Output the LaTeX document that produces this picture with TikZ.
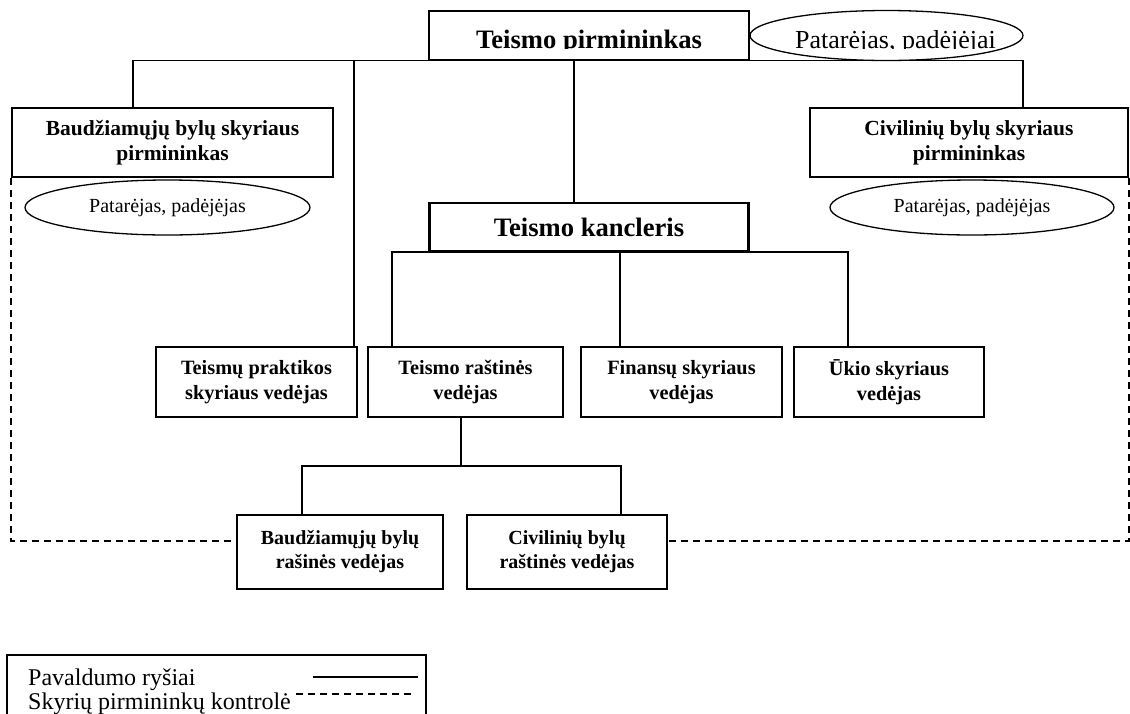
\documentclass[tikz,border=0pt]{standalone}
\usepackage{fontspec}
\setmainfont{Liberation Serif}
\usepackage{tikz}
\usetikzlibrary{shapes.geometric, arrows}
\tikzstyle{chief} =
[rectangle, minimum width = 320pt, minimum height = 49pt, inner sep = 0pt,
text height = 25pt, text depth = 0pt, text centered,
font = \bfseries\fontsize{26.6}{31}\selectfont]
\tikzstyle{topaides} =
[ellipse, minimum width = 273pt, minimum height = 50pt, inner sep = 0pt,
text height = 25pt, text depth = 0pt, text centered,
font = \fontsize{26}{30}\selectfont]
\tikzstyle{head} =
[rectangle, minimum width = 321pt, minimum height = 69pt, inner sep = 0pt,
align = center, draw = black, line width = 2.2pt,
font = \bfseries\fontsize{21.5}{25}\selectfont]
\tikzstyle{aides} =
[ellipse, minimum width = 285pt, minimum height = 55pt, inner sep = 0pt,
text centered, draw = black, line width = 1.3pt,
font = \fontsize{20}{24}\selectfont]
\tikzstyle{kanc} =
[rectangle, minimum width = 319pt, minimum height = 48pt, inner sep = 0pt,
text centered, draw = black, line width = 2.2pt,
font = \bfseries\fontsize{26.6}{31}\selectfont]
\tikzstyle{unit} =
[rectangle, minimum height = 70pt, inner sep = 0pt, align = center,
draw = black, line width = 2.2pt,
font = \bfseries\fontsize{20.3}{25}\selectfont]
\tikzstyle{office} =
[rectangle, minimum height = 74pt, inner sep = 0pt, align = center,
draw = black, line width = 2.2pt,
font = \bfseries\fontsize{20}{24}\selectfont]
\tikzstyle{legend} =
[inner sep = 0pt, anchor = base west, font = \fontsize{24}{28}\selectfont]
\tikzstyle{boxline} = [draw, line width = 2.2pt]
\tikzstyle{aideline} = [draw, line width = 1.3pt]
\tikzstyle{line} = [draw, line width = 1.3pt]
\tikzstyle{control} = [draw, line width = 1.3pt, dash pattern = on 7pt off 5pt]

\begin{document}
\begin{tikzpicture}[x = 1pt, y = -1pt, node distance = 200pt, auto]
  \useasboundingbox (0,0) rectangle (1130,713);
  \clip (0,0) rectangle (1130,713);
  % 1st level nodes
  \begin{scope}
    \clip (0,0) rectangle (1130,48.5); % lower part of the text is cut off
    \node [chief] (chief) at (589,35.5) {Teismo pirmininkas};
    \node [topaides, right of=chief, node distance=306.5pt] (chiefaides)
     {Patarėjas, padėjėjai};
  \end{scope}
  \draw [boxline] (chief.south west) rectangle (chief.north east);
  \draw [aideline] ([xshift=-9pt]chiefaides.center)
   ellipse [x radius=136.5, y radius=25];
  \node [head] (crimhead) at (172.5,142.5)
   {Baudžiamųjų bylų skyriaus\\ pirmininkas};
  \node [head, minimum width=318pt] (civhead) at (969,142.5)
   {Civilinių bylų skyriaus\\ pirmininkas};
  \node [aides] (crimaides) at (167.5,207.5) {Patarėjas, padėjėjas};
  \node [aides, minimum width=284pt] (civaides) at (972,207.5)
   {Patarėjas, padėjėjas};
  \node [kanc, below of=chief, node distance=191.5pt] (chancellor)
   {Teismo kancleris};
  % 1st level edges
  \path [line] (chief.south) -| ([xshift=-39.5pt]crimhead.north);
  \path [line] (chief.south) -| ([xshift=54pt]civhead.north);
  \path [line] (chief.south) -| ([xshift=-15pt]chancellor.north);
  %
  % 2nd level nodes
  \node [unit, minimum width=201pt] (practice) at (256.5,382)
   {Teismų praktikos\\ skyriaus vedėjas};
  \node [unit, minimum width=195pt, right of=practice, node distance=209pt]
   (registry) {Teismo raštinės\\ vedėjas};
  \node [unit, minimum width=201pt, right of=registry, node distance=216pt]
   (finance) {Finansų skyriaus\\ vedėjas};
  \node [unit, minimum width=190pt, right of=finance, node distance=207.5pt]
   (estate) {Ūkio skyriaus\\ vedėjas};
  % 2nd level edges
  \path [line] (chief.south) -| ([xshift=97.5pt]practice.north);
  \path [line] (chancellor.south) -| ([xshift=-73.5pt]registry.north);
  \path [line] (chancellor.south) -| ([xshift=-61.5pt]finance.north);
  \path [line] (chancellor.south) -| ([xshift=-41pt]estate.north);
  %
  % 3rd level nodes
  \node [office, minimum width=206pt] (crimoffice) at (340,552)
   {Baudžiamųjų bylų\\ rašinės vedėjas};
  \node [office, minimum width=200pt, right of=crimoffice, node distance=227pt]
   (civoffice) {Civilinių bylų\\ raštinės vedėjas};
  \coordinate (split) at (461,466);
  % 3rd level edges
  \path [line] (registry.south -| split) -- (split);
  \path [line] (split) -| ([xshift=-38pt]crimoffice.north);
  \path [line] (split) -| ([xshift=54pt]civoffice.north);
  \path [control] (crimhead.south west) |- ([yshift=11pt]crimoffice.west);
  \path [control] (civhead.south east) |- ([yshift=11pt]civoffice.east);
  %
  % legend
  \draw [line width=1.3pt] (7,655) rectangle (426,740);
  \node [legend] (legsub) at (28,685) {Pavaldumo ryšiai};
  \node [legend] (legctrl) at (28,709) {Skyrių pirmininkų kontrolė};
  \coordinate (substart) at (313,677);
  \coordinate (subend) at (418,677);
  \coordinate (ctrlstart) at (296,694);
  \coordinate (ctrlend) at (415,694);
  \path [line] (substart) -- (subend);
  \path [control] (ctrlstart) -- (ctrlend);
\end{tikzpicture}
\end{document}
